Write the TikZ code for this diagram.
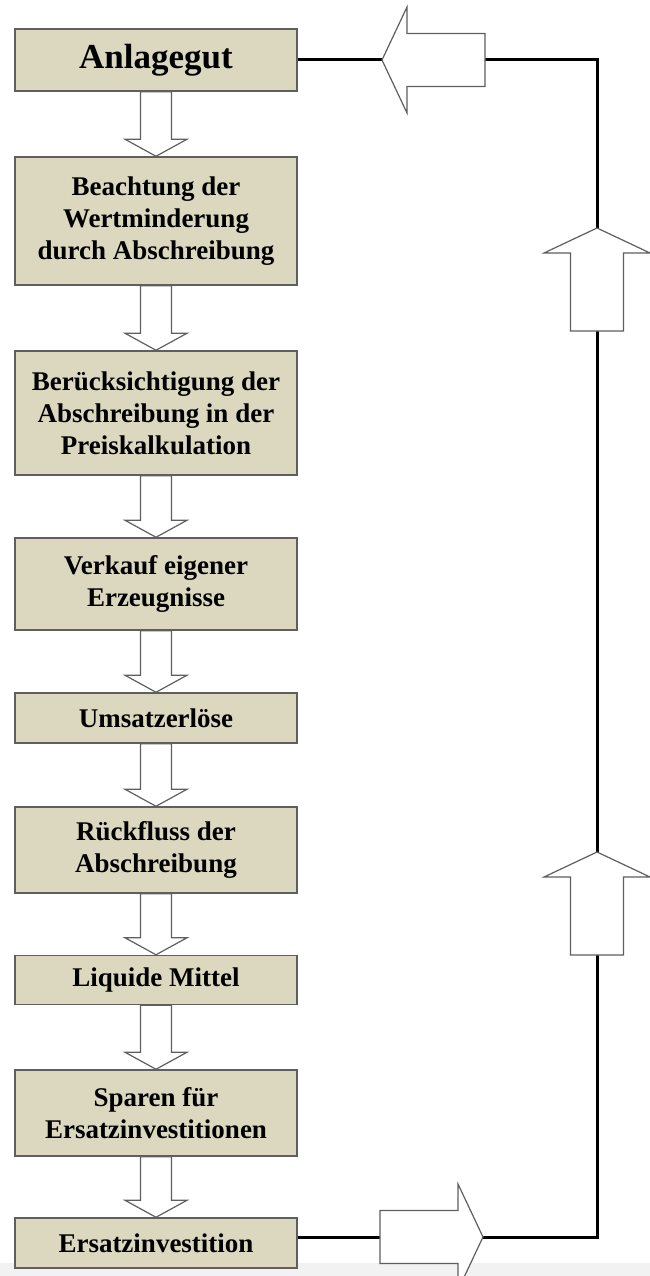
\documentclass[tikz,border=0pt]{standalone}
\usepackage{fontspec}
\setmainfont{Liberation Serif}
\usetikzlibrary{calc}
\definecolor{boxfill}{HTML}{DCD8C0}
\definecolor{boxline}{HTML}{5F5F5F}

\begin{document}
\begin{tikzpicture}[x=1pt, y=-1pt, font=\bfseries\fontsize{27}{32}\selectfont,
	box/.style={draw=boxline, fill=boxfill, line width=1.5pt, minimum width=282pt, inner sep=0pt, align=center},
	flowarrow/.style={draw=boxline, fill=white, line width=1.2pt, line join=miter},
	loopline/.style={line width=3pt}]
	\def\bx{156}
	\def\flow#1#2{\draw[flowarrow] ($(#1.south)+(-15.5,0)$) -- ($(#2.north)+(-15.5,-17)$) -- ($(#2.north)+(-31,-17)$) -- (#2.north) -- ($(#2.north)+(31,-17)$) -- ($(#2.north)+(15.5,-17)$) -- ($(#1.south)+(15.5,0)$) -- cycle;}
	\def\bigarrow#1#2{\draw[flowarrow, shift={(#1)}, rotate=#2] (0,0) -- (-25,53) -- (-25,26.5) -- (-103,26.5) -- (-103,-26.5) -- (-25,-26.5) -- (-25,-53) -- cycle;}
	\useasboundingbox (0,0) rectangle (650,1276);
	\fill[black!5] (0,1263) rectangle (650,1276);

	\node[box, minimum height=62pt, font=\bfseries\fontsize{35}{42}\selectfont] (anlage) at (\bx,60) {Anlagegut};
	\node[box, minimum height=128pt] (wert) at (\bx,221) {Beachtung der\\Wertminderung\\durch Abschreibung};
	\node[box, minimum height=124pt] (kalk) at (\bx,413) {Berücksichtigung der\\Abschreibung in der\\Preiskalkulation};
	\node[box, minimum height=92pt] (verkauf) at (\bx,584) {Verkauf eigener\\Erzeugnisse};
	\node[box, minimum height=50pt] (umsatz) at (\bx,718) {Umsatzerlöse};
	\node[box, minimum height=86pt] (rueck) at (\bx,850) {Rückfluss der\\Abschreibung};
	\node[box, minimum height=49pt] (mittel) at (\bx,980) {Liquide Mittel};
	\node[box, minimum height=86pt] (sparen) at (\bx,1113) {Sparen für\\Ersatzinvestitionen};
	\node[box, minimum height=50pt] (ersatz) at (\bx,1243) {Ersatzinvestition};

	\foreach \a/\b in {anlage/wert, wert/kalk, kalk/verkauf, verkauf/umsatz, umsatz/rueck, rueck/mittel, mittel/sparen, sparen/ersatz}
		\flow{\a}{\b};

	\coordinate (top) at (597,60);
	\coordinate (bot) at (597,1237);
	\draw[loopline] (ersatz.east |- bot) -- (bot) -- (top) -- (anlage.east);

	\bigarrow{483,1237}{0}
	\bigarrow{597,852}{90}
	\bigarrow{597,228}{90}
	\bigarrow{382,60}{180}
\end{tikzpicture}
\end{document}
